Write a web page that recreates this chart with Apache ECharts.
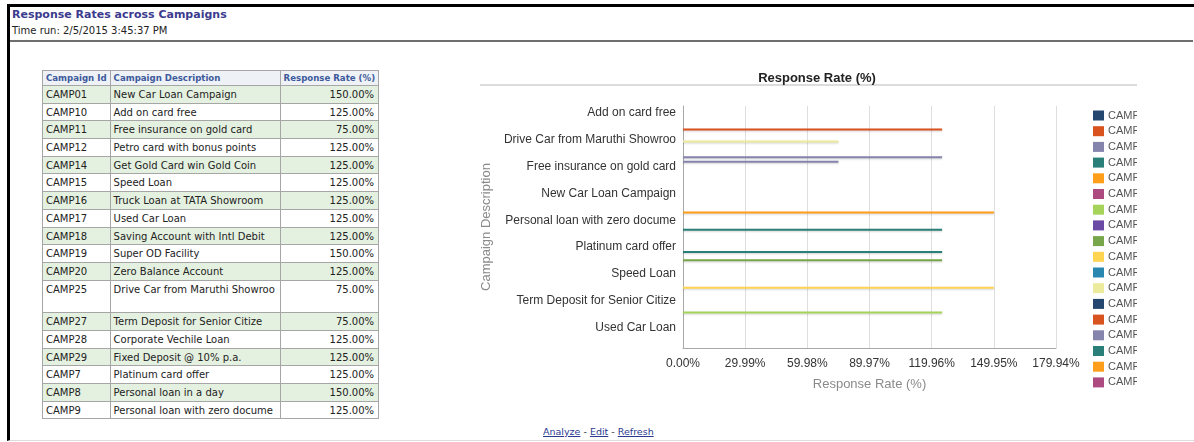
<!DOCTYPE html>
<html>
<head>
<meta charset="utf-8">
<title>Response Rates across Campaigns</title>
<script src="https://cdn.jsdelivr.net/npm/echarts@6.0.0/dist/echarts.min.js"></script>
<style>
body{margin:0;width:1194px;height:442px;background:#fff;overflow:hidden;font-family:"DejaVu Sans",Verdana,sans-serif;position:relative;}
#frame{position:absolute;left:7px;top:4px;width:1187px;height:437px;border-left:3px solid #000;border-top:3px solid #000;border-bottom:1px solid #ddd;box-sizing:border-box;}
#title{position:absolute;left:12px;top:8px;font-size:11px;font-weight:bold;color:#3b3b8e;}
#timerun{position:absolute;left:12px;top:25px;font-size:10px;color:#222;}
#sep{position:absolute;left:10px;top:40px;width:1183px;height:2px;background:#6e6e6e;}
#tbl{position:absolute;left:42px;top:70px;border-collapse:collapse;font-size:10px;color:#222;}
#tbl td{border:1px solid #a6a6a6;padding:2px 3px 0 3px;vertical-align:top;line-height:13px;white-space:nowrap;}
#tbl tr{height:17.7px;}
#tbl tr.head{height:15px;}
#tbl tr.head td{background:#eef1f5;color:#3d5a9c;font-weight:bold;font-size:8.6px;padding-top:1px;}
#tbl tr.alt td{background:#e5f1e0;}
#tbl tr.tall{height:32.7px;}
#tbl td.num{text-align:right;padding-right:4px;}
#chart{position:absolute;left:470px;top:60px;width:667px;height:340px;}
#links{position:absolute;left:543px;top:426px;font-size:9.5px;color:#333;}
#links a{color:#2b3a8f;text-decoration:underline;}
</style>
</head>
<body>
<div id="frame"></div>
<div id="title">Response Rates across Campaigns</div>
<div id="timerun">Time run: 2/5/2015 3:45:37 PM</div>
<div id="sep"></div>
<table id="tbl"></table>
<div id="chart"></div>
<div id="links"><a>Analyze</a> - <a>Edit</a> - <a>Refresh</a></div>
<script>
// 表格数据
var campIds = ['CAMP01','CAMP10','CAMP11','CAMP12','CAMP14','CAMP15','CAMP16','CAMP17','CAMP18',
	'CAMP19','CAMP20','CAMP25','CAMP27','CAMP28','CAMP29','CAMP7','CAMP8','CAMP9'];
var descriptions = ['New Car Loan Campaign','Add on card free','Free insurance on gold card',
	'Petro card with bonus points','Get Gold Card win Gold Coin','Speed Loan','Truck Loan at TATA Showroom',
	'Used Car Loan','Saving Account with Intl Debit','Super OD Facility','Zero Balance Account',
	'Drive Car from Maruthi Showroo','Term Deposit for Senior Citize','Corporate Vechile Loan',
	'Fixed Deposit @ 10% p.a.','Platinum card offer','Personal loan in a day','Personal loan with zero docume'];
var rates = [150,125,75,125,125,125,125,125,125,150,125,75,75,125,125,125,150,125];
var headers = ['Campaign Id','Campaign Description','Response Rate (%)'];

// 图表 y 轴类目(按字母排序)
var categories = ['Add on card free','Corporate Vechile Loan','Drive Car from Maruthi Showroo',
	'Fixed Deposit @ 10% p.a.','Free insurance on gold card','Get Gold Card win Gold Coin',
	'New Car Loan Campaign','Personal loan in a day','Personal loan with zero docume',
	'Petro card with bonus points','Platinum card offer','Saving Account with Intl Debit','Speed Loan',
	'Super OD Facility','Term Deposit for Senior Citize','Truck Loan at TATA Showroom','Used Car Loan',
	'Zero Balance Account'];
// 图上实际画出来的活动
var chartCamps = ['CAMP11','CAMP12','CAMP16','CAMP18','CAMP19','CAMP25','CAMP28','CAMP29','CAMP7','CAMP8'];
// x 轴刻度
var xMin = 0, xMax = 179.94, xStep = 29.99;

var colors = ['#24476f','#d9531f','#8484ad','#2a7f78','#ff9e1b','#ad4a80','#a6d45a','#6b4aa6',
	'#77a74a','#ffd450','#2a87b0','#ecea9c'];

/*表格*/
function buildTable(){
	var html = '<tr class="head">';
	for(var h = 0; h < headers.length; h++){
		html += '<td>' + headers[h] + '</td>';
	}
	html += '</tr>';
	for(var i = 0; i < campIds.length; i++){
		var cls = (i % 2 == 0) ? 'alt' : '';
		if(descriptions[i].indexOf('Drive') == 0){
			cls += ' tall';   // 这一行在原表里是两行高
		}
		html += '<tr class="' + cls + '">'
			+ '<td style="width:59px">' + campIds[i] + '</td>'
			+ '<td style="width:163px">' + descriptions[i] + '</td>'
			+ '<td class="num" style="width:89px">' + rates[i].toFixed(2) + '%</td></tr>';
	}
	document.getElementById('tbl').innerHTML = html;
}

/*条形图*/
function bars(divId){
	var myChart = echarts.init(document.getElementById(divId));
	var series = [];
	for(var i = 0; i < campIds.length; i++){
		var data = [];
		for(var c = 0; c < categories.length; c++){
			if(categories[c] == descriptions[i] && chartCamps.indexOf(campIds[i]) >= 0){
				data.push(rates[i]);
			}else{
				data.push('-');
			}
		}
		series.push({
			name: campIds[i],
			type: 'bar',
			barWidth: 2,
			barGap: '-63%',
			itemStyle: {
				shadowColor: 'rgba(0,0,0,0.18)',
				shadowBlur: 2,
				shadowOffsetY: 1
			},
			data: data
		});
	}
	var option = {
		animation: false,
		color: colors,
		textStyle: {fontFamily: '"Liberation Sans", Arial, sans-serif'},
		title: {
			text: 'Response Rate (%)',
			left: 342,
			top: 7,
			textAlign: 'center',
			textStyle: {fontSize: 13, fontWeight: 'bold', color: '#222'}
		},
		graphic: [{
			type: 'line',
			shape: {x1: 10, y1: 25, x2: 667, y2: 25},
			style: {stroke: '#dcdcdc', lineWidth: 2}
		}],
		legend: {
			orient: 'vertical',
			left: 623,
			top: 50,
			padding: 0,
			itemWidth: 11,
			itemHeight: 10,
			itemGap: 4.7,
			icon: 'rect',
			textStyle: {fontSize: 11, color: '#555', padding: [0, 0, 0, -1]},
			data: campIds
		},
		grid: {left: 213, right: 81, top: 46, bottom: 52, containLabel: false},
		xAxis: {
			type: 'value',
			min: xMin,
			max: xMax,
			interval: xStep,
			name: 'Response Rate (%)',
			nameLocation: 'middle',
			nameGap: 30,
			nameTextStyle: {fontSize: 13, color: '#8a8a8a'},
			axisLine: {show: true, lineStyle: {color: '#a8a8a8'}},
			axisTick: {show: false},
			splitLine: {show: true, lineStyle: {color: '#dedede'}},
			axisLabel: {
				fontSize: 12,
				color: '#333',
				margin: 10,
				formatter: function(v){
					return v.toFixed(2) + '%';
				}
			}
		},
		yAxis: {
			type: 'category',
			inverse: true,
			data: categories,
			name: 'Campaign Description',
			nameLocation: 'middle',
			nameGap: 182,
			nameTextStyle: {fontSize: 13, color: '#8a8a8a'},
			axisLine: {show: true, lineStyle: {color: '#a8a8a8'}},
			axisTick: {show: false},
			splitLine: {show: false},
			axisLabel: {interval: 1, fontSize: 12, color: '#333', margin: 7}
		},
		series: series
	};
	myChart.setOption(option);
}

buildTable();
bars('chart');
</script>
</body>
</html>
